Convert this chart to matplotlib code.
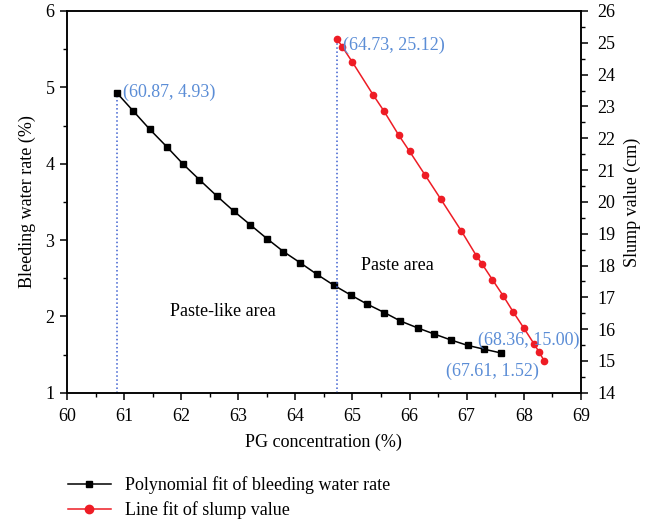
import matplotlib.pyplot as plt
from matplotlib.lines import Line2D
from matplotlib.ticker import MultipleLocator

# bleeding water rate (left axis)
pg_bleed = [60.87, 61.16, 61.45, 61.75, 62.04, 62.32, 62.62, 62.92, 63.21, 63.50,
            63.79, 64.09, 64.38, 64.67, 64.97, 65.26, 65.56, 65.84, 66.14, 66.43,
            66.73, 67.02, 67.31, 67.61]
bleed = [4.93, 4.69, 4.45, 4.22, 3.99, 3.79, 3.58, 3.38, 3.20, 3.02,
         2.85, 2.70, 2.55, 2.41, 2.28, 2.16, 2.05, 1.94, 1.85, 1.77,
         1.69, 1.62, 1.57, 1.52]

# slump value (right axis)
pg_slump = [64.73, 64.82, 65.00, 65.36, 65.55, 65.81, 66.00, 66.27, 66.55, 66.91,
            67.17, 67.27, 67.45, 67.64, 67.82, 68.00, 68.18, 68.27, 68.36]
slump = [25.12, 24.88, 24.39, 23.37, 22.86, 22.10, 21.59, 20.85, 20.08, 19.08,
         18.31, 18.05, 17.56, 17.05, 16.53, 16.04, 15.54, 15.28, 15.00]

plt.rcParams['font.family'] = ['Liberation Serif', 'DejaVu Serif']
plt.rcParams['font.size'] = 13

ann_color = '#5b8dd6'
dot_color = '#3d5fd0'
red = '#ee1c25'

fig = plt.figure(figsize=(6.57, 5.23), dpi=100)
ax = fig.add_axes([0.102, 0.249, 0.782, 0.730])
ax2 = ax.twinx()

ax.plot(pg_bleed, bleed, color='black', lw=1.1, marker='s', ms=4.5, zorder=3)
ax2.plot(pg_slump, slump, color=red, lw=1.1, marker='o', ms=4.5, zorder=3)

# vertical dotted guides
ax.plot([pg_bleed[0], pg_bleed[0]], [1, bleed[0]], ls=':', color=dot_color, lw=1.1)
ax2.plot([pg_slump[0], pg_slump[0]], [14, slump[0]], ls=':', color=dot_color, lw=1.1)

ax.set_xlim(60, 69)
ax.set_ylim(1, 6)
ax2.set_ylim(14, 26)

ax.xaxis.set_major_locator(MultipleLocator(1))
ax.xaxis.set_minor_locator(MultipleLocator(0.5))
ax.yaxis.set_major_locator(MultipleLocator(1))
ax.yaxis.set_minor_locator(MultipleLocator(0.5))
ax2.yaxis.set_major_locator(MultipleLocator(1))
ax2.yaxis.set_minor_locator(MultipleLocator(0.5))

for a in (ax, ax2):
    a.tick_params(which='major', direction='out', length=5, width=1.1, labelsize=13)
    a.tick_params(which='minor', direction='out', length=3, width=1.0)
    for s in a.spines.values():
        s.set_linewidth(1.1)
ax.tick_params(axis='x', which='major', pad=6)
ax.tick_params(axis='y', which='major', pad=4)
ax2.tick_params(axis='y', which='major', pad=7)

ax.set_xlabel('PG concentration (%)', fontsize=13, labelpad=6)
ax.set_ylabel('Bleeding water rate (%)', fontsize=13, labelpad=7)
ax2.set_ylabel('Slump value (cm)', fontsize=13, labelpad=6)

ax.text(60.98, 4.93, '(60.87, 4.93)', color=ann_color, fontsize=13, va='center', ha='left')
ax2.text(64.83, 24.92, '(64.73, 25.12)', color=ann_color, fontsize=13, va='center', ha='left')
ax2.text(68.98, 15.65, '(68.36, 15.00)', color=ann_color, fontsize=13, va='center', ha='right')
ax.text(67.45, 1.28, '(67.61, 1.52)', color=ann_color, fontsize=13, va='center', ha='center')

ax.text(62.73, 2.06, 'Paste-like area', fontsize=13, ha='center', va='center')
ax.text(65.78, 2.67, 'Paste area', fontsize=13, ha='center', va='center')

handles = [
    Line2D([], [], color='black', lw=1.1, marker='s', ms=4.5),
    Line2D([], [], color=red, lw=1.1, marker='o', ms=6),
]
labels = ['Polynomial fit of bleeding water rate', 'Line fit of slump value']
fig.legend(handles, labels, loc='upper left', bbox_to_anchor=(0.092, 0.103),
           frameon=False, fontsize=13, handlelength=2.4, handletextpad=0.75,
           labelspacing=0.38, borderaxespad=0)

fig.savefig('out.png', dpi=100)
